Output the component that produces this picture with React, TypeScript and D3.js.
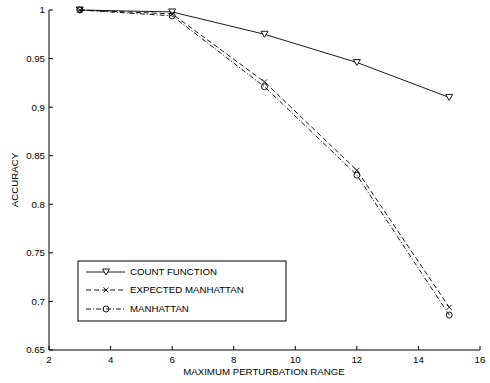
import React, { useEffect, useRef } from 'react';
import * as d3 from 'd3';

const ranges = [3, 6, 9, 12, 15];
const countFunction = [1.0, 0.998, 0.975, 0.946, 0.91];
const expectedManhattan = [1.0, 0.996, 0.926, 0.835, 0.694];
const manhattan = [1.0, 0.994, 0.921, 0.83, 0.686];
const xTicks = [2, 4, 6, 8, 10, 12, 14, 16];
const yTicks = [0.65, 0.7, 0.75, 0.8, 0.85, 0.9, 0.95, 1];

const seriesList = [
  { name: 'COUNT FUNCTION', values: countFunction, dash: null, marker: 'tri' },
  { name: 'EXPECTED MANHATTAN', values: expectedManhattan, dash: '5,3', marker: 'x' },
  { name: 'MANHATTAN', values: manhattan, dash: '5,2,1,2', marker: 'o' },
];

const App = () => {
  const ref = useRef<SVGSVGElement>(null);

  useEffect(() => {
    const svg = d3.select(ref.current);
    svg.selectAll('*').remove();
    const font = 'Liberation Sans, Arial, sans-serif';
    const fs = 9.7;

    const x = d3.scaleLinear().domain([2, 16]).range([49, 480]);
    const y = d3.scaleLinear().domain([0.65, 1]).range([350, 10]);

    // axes (ticks inward)
    const g = svg.append('g');
    g.append('line').attr('x1', 49).attr('x2', 480).attr('y1', 350).attr('y2', 350)
      .attr('stroke', '#000').attr('stroke-width', 1);
    g.append('line').attr('x1', 49).attr('x2', 49).attr('y1', 10).attr('y2', 350)
      .attr('stroke', '#000').attr('stroke-width', 1);

    xTicks.forEach(t => {
      g.append('line').attr('x1', x(t)).attr('x2', x(t)).attr('y1', 350).attr('y2', 346)
        .attr('stroke', '#000');
      g.append('text').attr('x', x(t)).attr('y', 363).attr('text-anchor', 'middle')
        .attr('font-family', font).attr('font-size', fs).text(t);
    });
    yTicks.forEach(t => {
      g.append('line').attr('x1', 49).attr('x2', 53).attr('y1', y(t)).attr('y2', y(t))
        .attr('stroke', '#000');
      g.append('text').attr('x', 45).attr('y', y(t)).attr('dy', '0.35em').attr('text-anchor', 'end')
        .attr('font-family', font).attr('font-size', fs).text(t);
    });

    g.append('text').attr('x', 264).attr('y', 375).attr('text-anchor', 'middle')
      .attr('font-family', font).attr('font-size', fs).text('MAXIMUM PERTURBATION RANGE');
    g.append('text').attr('transform', 'translate(18,180) rotate(-90)').attr('text-anchor', 'middle')
      .attr('font-family', font).attr('font-size', fs).text('ACCURACY');

    const drawMarker = (sel: any, kind: string, cx: number, cy: number) => {
      if (kind === 'tri') {
        sel.append('path')
          .attr('d', `M${cx - 3.5},${cy - 3} L${cx + 3.5},${cy - 3} L${cx},${cy + 3} Z`)
          .attr('fill', '#fff').attr('stroke', '#000').attr('stroke-width', 0.9);
      } else if (kind === 'x') {
        sel.append('path')
          .attr('d', `M${cx - 2.5},${cy - 2.5} L${cx + 2.5},${cy + 2.5} M${cx - 2.5},${cy + 2.5} L${cx + 2.5},${cy - 2.5}`)
          .attr('stroke', '#000').attr('stroke-width', 0.9);
      } else {
        sel.append('circle').attr('cx', cx).attr('cy', cy).attr('r', 3)
          .attr('fill', 'none').attr('stroke', '#000').attr('stroke-width', 0.9);
      }
    };

    const line = d3.line<number>().x((d, i) => x(ranges[i])).y(d => y(d));

    seriesList.forEach(s => {
      const p = svg.append('path').attr('d', line(s.values))
        .attr('fill', 'none').attr('stroke', '#000').attr('stroke-width', 0.9);
      if (s.dash) p.attr('stroke-dasharray', s.dash);
      s.values.forEach((v, i) => drawMarker(svg, s.marker, x(ranges[i]), y(v)));
    });

    // legend
    const lg = svg.append('g');
    lg.append('rect').attr('x', 78).attr('y', 261).attr('width', 208).attr('height', 60)
      .attr('fill', '#fff').attr('stroke', '#000').attr('stroke-width', 1);
    const rows = [272, 290, 309];
    seriesList.forEach((s, i) => {
      const ly = rows[i];
      const l = lg.append('line').attr('x1', 86).attr('x2', 125).attr('y1', ly).attr('y2', ly)
        .attr('stroke', '#000').attr('stroke-width', 0.9);
      if (s.dash) l.attr('stroke-dasharray', s.dash);
      drawMarker(lg, s.marker, 106, ly);
      lg.append('text').attr('x', 130).attr('y', ly).attr('dy', '0.35em')
        .attr('font-family', font).attr('font-size', fs).text(s.name);
    });
  }, []);

  return (
    <svg ref={ref} width={490} height={383} style={{ position: 'absolute', left: 0, top: 0, background: '#fff' }} />
  );
};

export default App;
